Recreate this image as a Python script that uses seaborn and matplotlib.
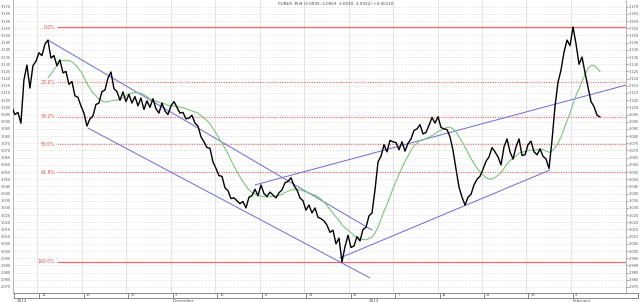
import numpy as np
import pandas as pd
import matplotlib
matplotlib.use("Agg")
import matplotlib.pyplot as plt
import seaborn as sns
from matplotlib.transforms import blended_transform_factory as btf

# ---------------- data ----------------
title = "FOREX: PLN (3.0935, 3.0953, 3.0920, 3.0932) +0.00110"

price = [
    3.1000, 3.0950, 3.0965, 3.0890, 3.1190, 3.1294, 3.1134, 3.1290, 3.1320, 3.1380,
    3.1360, 3.1440, 3.1468, 3.1343, 3.1360, 3.1290, 3.1330, 3.1240, 3.1250, 3.1160,
    3.1180, 3.1080, 3.1070, 3.1010, 3.0960, 3.0870, 3.0920, 3.0940, 3.1020, 3.1030,
    3.1110, 3.1120, 3.1204, 3.1246, 3.1130, 3.1110, 3.1050, 3.1107, 3.1040, 3.1090,
    3.1030, 3.1075, 3.1010, 3.1065, 3.0985, 3.1045, 3.1000, 3.1060, 3.0990, 3.0960,
    3.1030, 3.0975, 3.0950, 3.1010, 3.1040, 3.1000, 3.0960, 3.0965, 3.0920, 3.0925,
    3.0945, 3.0890, 3.0870, 3.0795, 3.0760, 3.0720, 3.0715, 3.0620, 3.0575, 3.0525,
    3.0520, 3.0440, 3.0420, 3.0365, 3.0370, 3.0350, 3.0330, 3.0345, 3.0300, 3.0375,
    3.0385, 3.0430, 3.0385, 3.0460, 3.0400, 3.0380, 3.0410, 3.0390, 3.0370, 3.0405,
    3.0425, 3.0475, 3.0485, 3.0510, 3.0455, 3.0425, 3.0370, 3.0350, 3.0285, 3.0320,
    3.0265, 3.0300, 3.0235, 3.0225, 3.0210, 3.0180, 3.0130, 3.0145, 3.0050, 3.0090,
    2.9924, 3.0030, 3.0110, 3.0025, 3.0035, 3.0100, 3.0070, 3.0150, 3.0165, 3.0245,
    3.0265, 3.0425, 3.0620, 3.0660, 3.0740, 3.0690, 3.0770, 3.0760, 3.0755, 3.0705,
    3.0760, 3.0695, 3.0750, 3.0780, 3.0840, 3.0850, 3.0880, 3.0815, 3.0825, 3.0875,
    3.0930, 3.0890, 3.0935, 3.0860, 3.0850, 3.0845, 3.0795, 3.0700, 3.0570, 3.0445,
    3.0375, 3.0320, 3.0375, 3.0395, 3.0460, 3.0500, 3.0520, 3.0570, 3.0625, 3.0655,
    3.0720, 3.0690, 3.0655, 3.0600, 3.0725, 3.0780, 3.0690, 3.0640, 3.0725, 3.0780,
    3.0665, 3.0670, 3.0740, 3.0765, 3.0690, 3.0670, 3.0710, 3.0660, 3.0640, 3.0575,
    3.0773, 3.1009, 3.1176, 3.1260, 3.1385, 3.1468, 3.1430, 3.1559, 3.1441, 3.1300,
    3.1350, 3.1240, 3.1140, 3.1040, 3.1005, 3.0945, 3.0933,
]
start_day = -2.87      # trading days relative to the 12 Nov tick
step_day = 0.3375      # sampling step (trading days)
ma_window = 13

week_ticks = [0, 5, 10, 15, 20, 25, 30, 35, 40, 45, 50, 55, 60]
week_labels = ["12", "19", "26", "3", "10", "17", "24", "31", "7", "14", "21", "28", "4"]
period_labels = ["2012", "December", "2013", "February"]
period_pos = [-2.6, 15.0, 37.0, 60.0]

y_ticks_lo, y_ticks_hi, y_step = 2.975, 3.170, 0.005
y_lim = (2.9708, 3.1747)
x_lim = (-2.75, 66.2)

fib_high = 3.1559
fib_low = 2.9924
fib_pcts = [0.0, 23.6, 38.2, 50.0, 61.8, 100.0]
fib_labels = ["0.0%", "23.6%", "38.2%", "50.0%", "61.8%", "100.0%"]
fib_start = 2.2

trend_start_day = [1.18, 5.68, 24.47, 34.03]
trend_start_px = [3.1468, 3.0856, 3.0460, 2.9952]
trend_end_day = [37.63, 37.40, 66.19, 57.65]
trend_end_px = [3.0146, 2.9813, 3.1155, 3.0564]

# ---------------- build ----------------
t = start_day + step_day * np.arange(len(price))
df = pd.DataFrame({"t": t, "price": price})
df["ma"] = df["price"].rolling(ma_window).mean()

sns.set_theme(style="white")
plt.rcParams["font.family"] = ["DejaVu Sans"]

fig = plt.figure(figsize=(6.4, 3.02), dpi=100)
ax = fig.add_axes([13 / 640, 9 / 302, 613 / 640, 293 / 302])
band = fig.add_axes([14 / 640, 4 / 302, 624 / 640, 5 / 302])

# grid
yt = np.round(np.arange(y_ticks_lo, y_ticks_hi + 1e-9, y_step), 3)
ax.set_yticks(yt)
ax.set_yticklabels([f"{v:.3f}" for v in yt])
ax.set_xticks(week_ticks)
ax.grid(axis="y", color="#c8c8c8", lw=0.4, ls=(0, (1, 1.5)))
ax.grid(axis="x", color="#d8d8d8", lw=0.5, ls="-")

# fib levels
rng = fib_high - fib_low
for pct, lab in zip(fib_pcts, fib_labels):
    lvl = fib_high - pct / 100.0 * rng
    solid = pct in (0.0, 100.0)
    ax.hlines(lvl, fib_start, x_lim[1], color="#e86a6a",
              lw=0.9 if solid else 0.8,
              ls="-" if solid else (0, (1, 1.2)), zorder=2)
    ax.text(fib_start - 0.2, lvl, lab, color="#e05050", fontsize=3.3,
            ha="right", va="center", zorder=3)

# trend lines
for d0, p0, d1, p1 in zip(trend_start_day, trend_start_px, trend_end_day, trend_end_px):
    ax.plot([d0, d1], [p0, p1], color="#6a6ad8", lw=0.7, zorder=3)

sns.lineplot(data=df, x="t", y="ma", ax=ax, color="#7cc47c", lw=0.8,
             estimator=None, zorder=4)
sns.lineplot(data=df, x="t", y="price", ax=ax, color="black", lw=1.0,
             estimator=None, zorder=5)

ax.set_xlim(*x_lim)
ax.set_ylim(*y_lim)
ax.set_xlabel("")
ax.set_ylabel("")
ax.tick_params(axis="y", labelleft=True, labelright=True, left=False, right=True,
               labelsize=2.5, length=1.5, width=0.4, pad=0.3, colors="#555555",
               direction="out")
ax.tick_params(axis="x", bottom=False, labelbottom=False)
for s in ax.spines.values():
    s.set_color("#999999")
    s.set_linewidth(0.5)
ax.spines["top"].set_visible(False)

# bottom band (maps the same day scale as the main axes)
px_per_day = 613 / (x_lim[1] - x_lim[0])
band_lo = x_lim[0] - 1 / px_per_day
band_hi = band_lo + 624 / px_per_day
band.set_xlim(band_lo, band_hi)
band.set_ylim(0, 1)
band.set_yticks([])
band.set_xticks(week_ticks)
band.tick_params(axis="x", direction="in", length=3.5, width=0.5, color="#555555",
                 labelbottom=False, bottom=True)
for s in band.spines.values():
    s.set_color("#777777")
    s.set_linewidth(0.6)
band.set_facecolor("white")
for d, lab in zip(week_ticks, week_labels):
    band.text(d + 0.25, 0.5, lab, fontsize=2.6, va="center", ha="left", color="#555555")
tr = btf(band.transData, band.transAxes)
for d, lab in zip(period_pos, period_labels):
    band.text(d, -0.15, lab, fontsize=3.0, va="top", ha="left", color="#555555",
              transform=tr)

fig.text(278 / 640, 0.992, title, fontsize=3.0, va="top", ha="left", color="#444444")

fig.savefig("out.png", dpi=100)
